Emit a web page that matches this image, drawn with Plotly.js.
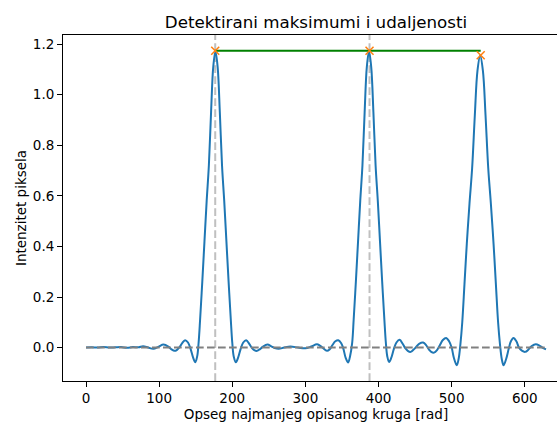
<!DOCTYPE html>
<html>
<head>
<meta charset="utf-8">
<script src="https://cdn.plot.ly/plotly-3.0.1.min.js"></script>
<style>html,body{margin:0;padding:0;overflow:hidden;background:#fff;}#chart{width:575px;height:423px;}</style>
</head>
<body>
<div id="chart"></div>
<script>
// Signal samples (x in rad, y = pixel intensity)
const signalX = [0,8,16,24,32,40,48,56,64,72,78,85,92,99,106,113,117,121,124.5,128,131.5,135.5,139.5,143,146.5,149.5,
  152,154,156,159,162,165,168,171,174,177,180,183,186,189,192,195,198,200,202,205,
  208,211.5,215,219,223,226.5,230,234,238,242,248,254,258,263.5,271,279.5,290,300,308,316,322.5,329.5,333,337,341,345,349,352,355,358.5,
  361,364,366,369,372,375,378,381,384,387,390,393,396,399,402,405,408,410,412,414.5,
  417.5,421,424.5,428.8,433,436.5,440,444,448,452,456,461,465,469,472,476,480,484,488,492.5,496.5,500,503,507,
  509.5,512,514.5,517.5,520.7,524.4,528,531.7,535.3,539,542.7,546.3,550,553.6,557.3,560.5,563.5,566,568.5,571,
  574.5,578,581,584.5,588.5,592,596,600.5,605,609.5,615,620,624,629];
const signalY = [0.000,0.001,0.000,0.002,0.000,0.001,0.002,-0.001,0.002,0.001,0.005,0.000,-0.005,0.003,0.012,0.003,-0.007,-0.013,-0.009,0.002,0.018,0.029,0.020,-0.005,-0.040,-0.058,
  -0.035,0.020,0.110,0.260,0.420,0.580,0.720,0.930,1.110,1.172,1.110,0.930,0.720,0.580,0.420,0.260,0.110,0.020,-0.035,-0.058,
  -0.040,-0.005,0.020,0.029,0.016,0.000,-0.010,-0.013,-0.006,0.004,0.012,0.004,-0.002,-0.005,0.000,0.004,0.000,-0.003,0.004,0.013,0.002,-0.013,-0.008,0.010,0.025,0.029,0.017,-0.005,-0.040,-0.059,
  -0.035,0.020,0.110,0.260,0.420,0.580,0.720,0.930,1.110,1.172,1.110,0.930,0.720,0.580,0.420,0.260,0.110,0.020,-0.035,-0.057,
  -0.040,-0.005,0.020,0.031,0.015,-0.002,-0.013,-0.017,-0.008,0.004,0.016,0.020,0.010,-0.008,-0.017,-0.020,-0.010,0.010,0.030,0.038,0.025,0.000,-0.040,-0.070,
  -0.045,0.015,0.100,0.250,0.410,0.570,0.710,0.920,1.095,1.155,1.095,0.920,0.710,0.570,0.410,0.250,0.100,0.015,-0.045,-0.070,
  -0.045,-0.005,0.025,0.038,0.025,0.000,-0.012,-0.017,-0.008,0.006,0.013,0.008,0.000,-0.007];
// Detected maxima
const peakX = [176.7, 387.7, 539.7];
const peakY = [1.174, 1.174, 1.156];
// Tick labels
const xTicks = [0, 100, 200, 300, 400, 500, 600];
const yTicks = [0.0, 0.2, 0.4, 0.6, 0.8, 1.0, 1.2];

const font = {family: 'DejaVu Sans, sans-serif', size: 13.5, color: '#000'};
const lastX = signalX[signalX.length - 1];
const traces = [
  {x: signalX, y: signalY, mode: 'lines', line: {color: '#1f77b4', width: 2, shape: 'spline', smoothing: 1}, hoverinfo: 'skip'},
  {x: [signalX[0], lastX], y: [0, 0], mode: 'lines', line: {color: '#808080', width: 2, dash: '7.7px,3.3px'}},
  {x: [peakX[0], peakX[peakX.length - 1]], y: [Math.max(...peakY), Math.max(...peakY)], mode: 'lines', line: {color: '#008000', width: 2}},
  {x: peakX, y: peakY, mode: 'markers', marker: {symbol: 'x-thin', size: 8, color: '#ff7f0e', line: {color: '#ff7f0e', width: 1.5}}}
];
const shapes = peakX.slice(0, 2).map(v => ({type: 'line', xref: 'x', yref: 'paper', x0: v, x1: v, y0: 0, y1: 1,
  line: {color: '#c0c0c0', width: 2, dash: '7.7px,3.3px'}, layer: 'below'}));
const span = lastX - signalX[0];
const ymin = Math.min(...signalY), ymax = Math.max(...peakY);
const layout = {
  width: 575, height: 423,
  margin: {l: 63, r: 6, t: 35, b: 42},
  paper_bgcolor: '#fff', plot_bgcolor: '#fff',
  showlegend: false,
  font: font,
  title: {text: 'Detektirani maksimumi i udaljenosti', font: {family: font.family, size: 16.7, color: '#000'},
    x: 0.5, xref: 'paper', xanchor: 'center', y: 1, yref: 'paper', yanchor: 'bottom', pad: {b: 7}},
  xaxis: {range: [signalX[0] - 0.05 * span, lastX + 0.05 * span], tickvals: xTicks, ticktext: xTicks.map(String),
    showgrid: false, zeroline: false, showline: true, mirror: true, linecolor: '#000', linewidth: 1,
    ticks: 'outside', ticklen: 5, tickcolor: '#000', tickwidth: 1, tickfont: font,
    title: {text: 'Opseg najmanjeg opisanog kruga [rad]', font: font, standoff: 4}},
  yaxis: {range: [ymin - 0.05 * (ymax - ymin), ymax + 0.05 * (ymax - ymin)], tickvals: yTicks, ticktext: yTicks.map(v => v.toFixed(1)),
    showgrid: false, zeroline: false, showline: true, mirror: true, linecolor: '#000', linewidth: 1,
    ticks: 'outside', ticklen: 5, tickcolor: '#000', tickwidth: 1, tickfont: font,
    title: {text: 'Intenzitet piksela', font: font, standoff: 3}},
  shapes: shapes
};
Plotly.newPlot('chart', traces, layout, {staticPlot: true, displayModeBar: false});
</script>
</body>
</html>
